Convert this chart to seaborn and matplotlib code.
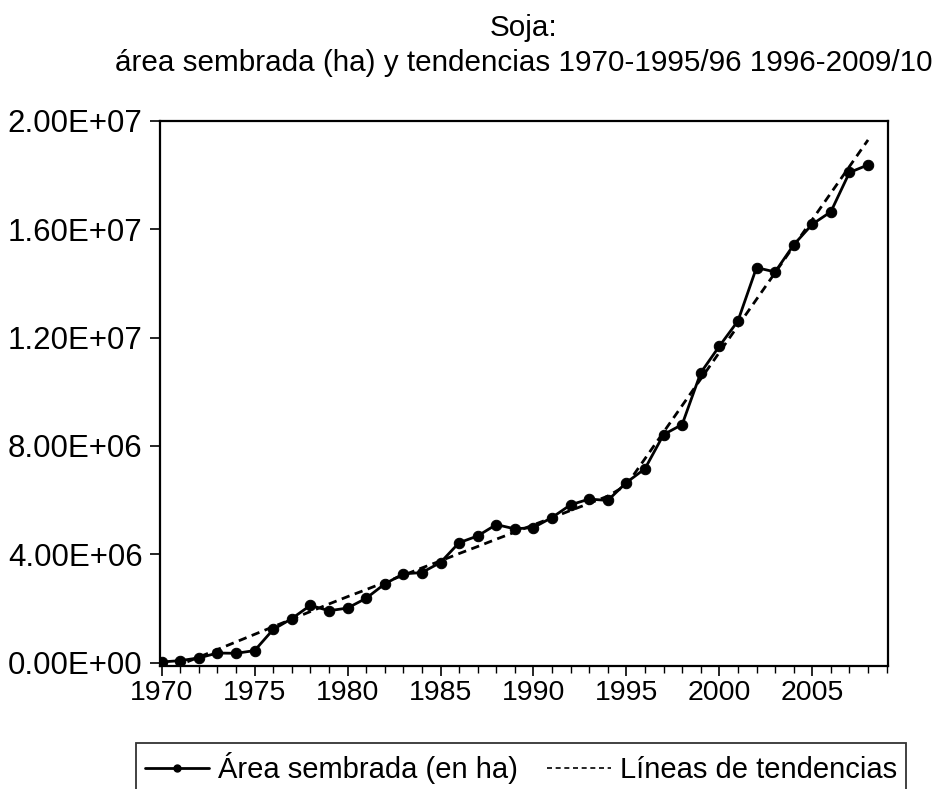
import numpy as np
import pandas as pd
import matplotlib
matplotlib.use("Agg")
import matplotlib.pyplot as plt
from matplotlib.ticker import MultipleLocator, FuncFormatter
from matplotlib.lines import Line2D
import seaborn as sns

years = list(range(1970, 2009))
area_m = [0.03, 0.08, 0.18, 0.36, 0.35, 0.45, 1.23, 1.63, 2.12, 1.92,
          2.02, 2.38, 2.91, 3.28, 3.33, 3.70, 4.43, 4.68, 5.10, 4.94,
          4.99, 5.36, 5.83, 6.04, 5.99, 6.65, 7.16, 8.42, 8.79, 10.70,
          11.68, 12.61, 14.58, 14.42, 15.42, 16.18, 16.64, 18.09, 18.37]
trend_m = [-0.35, -0.07, 0.21, 0.49, 0.77, 1.05, 1.33, 1.61, 1.89, 2.17,
           2.44, 2.70, 2.97, 3.23, 3.50, 3.76, 4.03, 4.29, 4.56, 4.82,
           5.09, 5.35, 5.62, 5.88, 6.15, 6.55, 7.53, 8.51, 9.49, 10.47,
           11.45, 12.43, 13.41, 14.39, 15.37, 16.35, 17.33, 18.31, 19.29]
title_lines = ["Soja:", "área sembrada (ha) y tendencias 1970-1995/96 1996-2009/10"]
series_names = ["Área sembrada (en ha)", "Líneas de tendencias"]

df = pd.DataFrame({"year": years,
                   "area": [v * 1e6 for v in area_m],
                   "trend": [v * 1e6 for v in trend_m]})

sns.set_style("white")
plt.rcParams["font.family"] = ["Liberation Sans", "DejaVu Sans"]
plt.rcParams["text.color"] = "black"
plt.rcParams["axes.labelcolor"] = "black"
plt.rcParams["xtick.color"] = "black"
plt.rcParams["ytick.color"] = "black"

fig = plt.figure(figsize=(9.37, 7.89), dpi=100)
W, H = 937, 789
ax = fig.add_axes([160 / W, 1 - 665.5 / H, (888.3 - 160) / W, (665.5 - 120.7) / H])

sns.lineplot(data=df, x="year", y="area", ax=ax, color="black", linewidth=2.0,
             marker="o", markersize=7.5, markeredgecolor="black",
             legend=False)
sns.lineplot(data=df, x="year", y="trend", ax=ax, color="black", linewidth=2.0,
             linestyle=(0, (3, 2.0)), legend=False)

ax.set_xlim(1969.91, 2009.09)
ax.set_ylim(-0.1e6, 2.0e7)
ax.set_xlabel("")
ax.set_ylabel("")

ax.yaxis.set_major_locator(MultipleLocator(4e6))
ax.yaxis.set_major_formatter(FuncFormatter(lambda v, p: f"{v:.2E}"))
ax.xaxis.set_major_locator(MultipleLocator(5))
ax.xaxis.set_minor_locator(MultipleLocator(1))
ax.xaxis.set_major_formatter(FuncFormatter(lambda v, p: f"{int(round(v))}"))

for s in ax.spines.values():
    s.set_color("black")
    s.set_linewidth(1.6)

ax.tick_params(axis="y", which="major", direction="out", length=7.5, width=1.2,
               left=True, right=False, labelsize=22.5, pad=5,
               colors="black", labelcolor="black")
ax.tick_params(axis="x", which="major", direction="out", length=7.5, width=1.2,
               bottom=True, top=False, labelsize=20.5, pad=3,
               colors="black", labelcolor="black")
ax.tick_params(axis="x", which="minor", direction="out", length=5, width=1.0,
               bottom=True, top=False, colors="black")

fig.text(524 / W, 1 - 28 / H, title_lines[0], ha="center", va="center",
         fontsize=21.3, color="black")
fig.text(524 / W, 1 - 63 / H, title_lines[1], ha="center", va="center",
         fontsize=21.3, color="black")

handles = [Line2D([], [], color="black", linewidth=2.0, marker="o", markersize=5),
           Line2D([], [], color="black", linewidth=1.2, linestyle=(0, (3, 2.2)))]
leg = fig.legend(handles, series_names, loc="upper center",
                 bbox_to_anchor=(521 / W, 1 - 743 / H), ncol=2, fontsize=21,
                 frameon=True, fancybox=False, edgecolor="black",
                 handlelength=2.2, columnspacing=1.0, handletextpad=0.3,
                 borderpad=0.3, borderaxespad=0, labelcolor="black")
leg.get_frame().set_linewidth(1.3)

fig.savefig("out.png", dpi=100)
